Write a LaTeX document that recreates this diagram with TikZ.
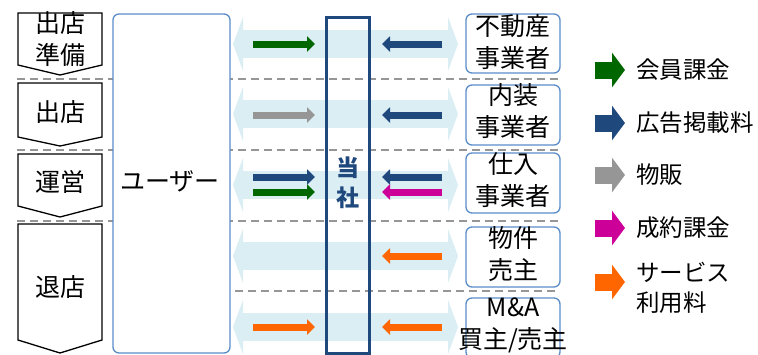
\documentclass[tikz,border=0pt]{standalone}
\usepackage{fontspec}
\setmainfont{Noto Sans CJK JP}
\usetikzlibrary{arrows.meta}
\definecolor{dgreen}{RGB}{0,102,0}
\definecolor{dblue}{RGB}{31,73,125}
\definecolor{mgray}{RGB}{150,150,150}
\definecolor{magen}{RGB}{204,0,153}
\definecolor{orng}{RGB}{255,102,0}
\definecolor{bandcol}{RGB}{219,238,244}
\definecolor{boxblue}{RGB}{90,140,200}
\definecolor{sepgray}{RGB}{150,150,150}
\begin{document}
\begin{tikzpicture}[x=1pt,y=-1pt,
  bandarrow/.style={draw=bandcol, line width=28pt, {Triangle[length=10pt,width=54pt]}-{Triangle[length=10pt,width=54pt]}},
  flow/.style={draw=#1, line width=7pt, -{Triangle[length=8pt,width=15pt]}},
  legarrow/.style={draw=#1, line width=17pt, -{Triangle[length=13pt,width=34pt]}},
  sepline/.style={draw=sepgray, line width=2pt, dash pattern=on 8pt off 5pt},
  stage/.style={draw=black, line width=1.3pt, fill=white},
  lbl/.style={inner sep=0pt, align=center, font=\fontsize{25}{32}\selectfont},
  party/.style={draw=boxblue, line width=1.3pt, rounded corners=6pt, fill=white, minimum width=94pt, minimum height=60pt, inner sep=0pt},
  legtxt/.style={anchor=west, inner sep=0pt, align=left, font=\fontsize{23.5}{30}\selectfont}
]
\useasboundingbox (0,0) rectangle (758,354);

% background bands
\foreach \yy in {44,114,185,256,327}
  \draw[bandarrow] (233,\yy) -- (458,\yy);

% separators
\draw[sepline] (17,79) -- (560,79);
\draw[sepline] (17,150) -- (560,150);
\draw[sepline] (17,221) -- (560,221);
\draw[sepline] (235,291) -- (555,291);

% stages
\draw[stage] (18,13) -- (102,13) -- (102,65) -- (60,75) -- (18,65) -- cycle;
\draw[stage] (18,83) -- (102,83) -- (102,137) -- (60,146) -- (18,137) -- cycle;
\draw[stage] (18,154) -- (102,154) -- (102,206) -- (60,217) -- (18,206) -- cycle;
\draw[stage] (18,224) -- (102,224) -- (102,340) -- (60,353) -- (18,340) -- cycle;
\node[lbl] (s1) at (60,39) {出店\\準備};
\node[lbl] (s2) at (60,112) {出店};
\node[lbl] (s3) at (60,182) {運営};
\node[lbl] (s4) at (60,287) {退店};

% user
\node[draw=boxblue, line width=1.3pt, rounded corners=6pt, fill=white, minimum width=117pt, minimum height=339pt, inner sep=0pt] (user) at (171.5,183.5) {};
\node[lbl] (usertxt) at (170,181) {ユーザー};

% company
\node[draw=dblue, line width=3pt, minimum width=43pt, minimum height=336pt, inner sep=0pt] (co) at (347.5,185) {};
\node[inner sep=0pt, align=center, text=dblue, font=\fontsize{23}{30}\selectfont\bfseries] (cotxt) at (347.5,183) {当\\社};

% parties
\node[party, minimum height=59pt] (p1) at (513,43.5) {};
\node[lbl] at (513,42) {不動産\\事業者};
\node[party] (p2) at (513,115) {};
\node[lbl] at (513,111.5) {内装\\事業者};
\node[party] (p3) at (513,183) {};
\node[lbl] at (513,180) {仕入\\事業者};
\node[party] (p4) at (513,257) {};
\node[lbl] at (513,254) {物件\\売主};
\node[party] (p5) at (513,328) {};
\node[lbl] at (513,325) {M\&A\\買主/売主};

% flow arrows
\coordinate (a1) at (253,44);  \coordinate (b1) at (315,44);
\coordinate (c1) at (442,44);  \coordinate (d1) at (382,44);
\coordinate (a2) at (253,115); \coordinate (b2) at (315,115);
\coordinate (c2) at (442,115); \coordinate (d2) at (382,115);
\coordinate (a3) at (253,177); \coordinate (b3) at (315,177);
\coordinate (c3) at (442,177); \coordinate (d3) at (382,177);
\coordinate (a4) at (253,192); \coordinate (b4) at (315,192);
\coordinate (c4) at (442,192); \coordinate (d4) at (382,192);
\coordinate (c5) at (442,256); \coordinate (d5) at (382,256);
\coordinate (a6) at (253,327); \coordinate (b6) at (315,327);
\coordinate (c6) at (442,327); \coordinate (d6) at (382,327);
\draw[flow=dgreen] (a1) -- (b1);
\draw[flow=dblue] (c1) -- (d1);
\draw[flow=mgray] (a2) -- (b2);
\draw[flow=dblue] (c2) -- (d2);
\draw[flow=dblue] (a3) -- (b3);
\draw[flow=dblue] (c3) -- (d3);
\draw[flow=dgreen] (a4) -- (b4);
\draw[flow=magen] (c4) -- (d4);
\draw[flow=orng] (c5) -- (d5);
\draw[flow=orng] (a6) -- (b6);
\draw[flow=orng] (c6) -- (d6);

% legend
\foreach \yy/\cc/\nm in {70/dgreen/l1,123/dblue/l2,175/mgray/l3,228/magen/l4,282/orng/l5}{
  \coordinate (\nm s) at (595,\yy);
  \coordinate (\nm e) at (625,\yy);
  \draw[legarrow=\cc] (\nm s) -- (\nm e);
}
\node[legtxt] (t1) at (636,70) {会員課金};
\node[legtxt] (t2) at (636,123) {広告掲載料};
\node[legtxt] (t3) at (636,175) {物販};
\node[legtxt] (t4) at (636,228) {成約課金};
\node[legtxt] (t5) at (636,288) {サービス\\利用料};
\end{tikzpicture}
\end{document}
